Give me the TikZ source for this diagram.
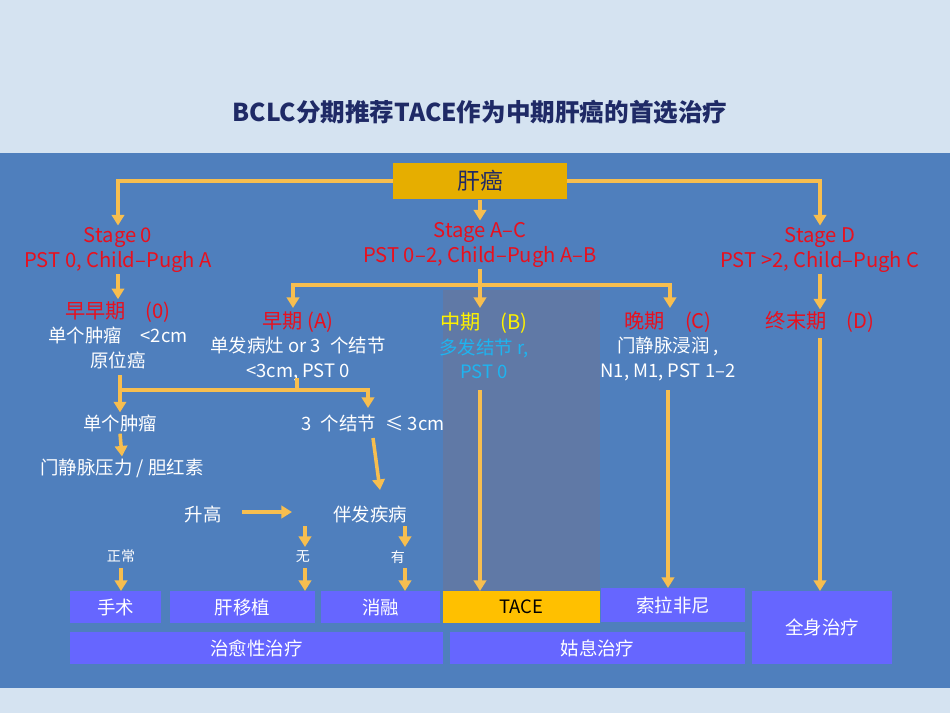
\documentclass[tikz,border=0pt]{standalone}
\usepackage{fontspec}
\setmainfont{Noto Sans CJK SC}
\usetikzlibrary{arrows.meta,calc}
\definecolor{panel}{HTML}{4F7FBD}
\definecolor{pale}{HTML}{D5E3F1}
\definecolor{midcol}{HTML}{6079A6}
\definecolor{flow}{HTML}{F7BE4F}
\definecolor{gold}{HTML}{E6AE00}
\definecolor{tacecol}{HTML}{FFC000}
\definecolor{treat}{HTML}{6666FF}
\definecolor{navy}{HTML}{1F2A66}
\definecolor{stagered}{HTML}{E8101E}
\definecolor{bcyan}{HTML}{1EB4F0}
\newcommand\infosize{\fontsize{10.5}{13}\selectfont}
\begin{document}
\begin{tikzpicture}[x=0.02cm,y=-0.02cm,
    lbl/.style={align=center,inner sep=1pt,font=\fontsize{11.5}{14}\selectfont},
    stage/.style={lbl,text=stagered},
    info/.style={lbl,text=white,font=\infosize},
    small/.style={lbl,text=white,font=\fontsize{8}{9}\selectfont},
    flowline/.style={draw=flow,line width=2pt},
    flowarrow/.style={flowline,-{Triangle[length=6pt,width=7pt]}},
    tbox/.style={fill=treat,text=white,inner sep=0pt,font=\infosize}]
  % background
  \fill[pale] (0,0) rectangle (950,713);
  \fill[panel] (0,153) rectangle (950,688);
  \fill[midcol] (443,290) rectangle (600,595);
  \node[font=\bfseries\fontsize{14}{16}\selectfont,text=navy] (title) at (480,112) {BCLC分期推荐TACE作为中期肝癌的首选治疗};
  % top level
  \node[fill=gold,text=navy,minimum width=3.48cm,minimum height=0.74cm,font=\fontsize{13}{14}\selectfont] (liver) at (480,181) {肝癌};
  \node[stage] (st0) at (118,250) {Stage 0\\PST 0, Child–Pugh A};
  \node[stage] (stac) at (480,245) {Stage A–C\\PST 0–2, Child–Pugh A–B};
  \node[stage] (std) at (820,250) {Stage D\\PST >2, Child–Pugh C};
  \draw[flowarrow] (liver.west) -| (st0.north);
  \draw[flowarrow] (liver.east) -| (std.north);
  \draw[flowarrow] (liver.south) -- (stac.north);
  % stages
  \node[lbl] (zero) at (118,335) {\textcolor{stagered}{早早期\quad(0)}\\\infosize\textcolor{white}{单个肿瘤\quad <2cm}\\\infosize\textcolor{white}{原位癌}};
  \node[lbl] (early) at (298,346) {\textcolor{stagered}{早期 (A)}\\\infosize\textcolor{white}{单发病灶 or 3\enspace 个结节}\\\infosize\textcolor{white}{<3cm, PST 0}};
  \node[lbl] (mid) at (484,346) {\textcolor{yellow}{中期\quad(B)}\\\infosize\textcolor{bcyan}{多发结节 r,}\\\infosize\textcolor{bcyan}{PST 0}};
  \node[lbl] (late) at (668,346) {\textcolor{stagered}{晚期\quad(C)}\\\infosize\textcolor{white}{门静脉浸润 ,}\\\infosize\textcolor{white}{N1, M1, PST 1–2}};
  \node[stage] (term) at (820,322) {终末期\quad(D)};
  \draw[flowarrow] (st0.south) -- (zero.north);
  \draw[flowarrow] (std.south) -- (term.north);
  \coordinate (split) at (480,285);
  \draw[flowline] (stac.south) -- (split);
  \draw[flowarrow] (split) -| (293,308);
  \draw[flowarrow] (split) -| (670,308);
  \draw[flowarrow] (split) -- (480,308);
  % early branch
  \node[info] (single) at (120,423) {单个肿瘤};
  \node[info] (three) at (373,423) {3\enspace 个结节\enspace ≤ 3cm};
  \node[info] (portal) at (122,468) {门静脉压力 / 胆红素};
  \coordinate (fork) at (297,390);
  \draw[flowline] (297,378) -- (fork);
  \draw[flowarrow] (120,375) -- (single.north);
  \draw[flowarrow] (120,390) -| (368,408);
  \draw[flowarrow] (single.south) -- (portal.north);
  \node[info] (up) at (203,514) {升高};
  \node[info] (comorb) at (370,514) {伴发疾病};
  \draw[flowarrow] (373,438) -- (380,490);
  \draw[flowarrow] (242,512) -- (292,512);
  \node[small] (normal) at (121,556) {正常};
  \node[small] (none) at (303,557) {无};
  \node[small] (yes) at (398,557) {有};
  \draw[flowarrow] (305,526) -- (305,547);
  \draw[flowarrow] (405,526) -- (405,547);
  % treatments
  \node[tbox,minimum width=1.82cm,minimum height=0.64cm] (surg) at (115.5,607) {手术};
  \node[tbox,minimum width=2.9cm,minimum height=0.64cm] (trans) at (242.5,607) {肝移植};
  \node[tbox,minimum width=2.38cm,minimum height=0.64cm] (abl) at (380.5,607) {消融};
  \node[tbox,fill=tacecol,text=black,minimum width=3.14cm,minimum height=0.64cm] (tace) at (521.5,607) {TACE};
  \node[tbox,minimum width=2.88cm,minimum height=0.68cm] (sora) at (673,605) {索拉非尼};
  \node[tbox,minimum width=2.8cm,minimum height=1.46cm] (sys) at (822,627.5) {全身治疗};
  \node[tbox,minimum width=7.46cm,minimum height=0.64cm] (cur) at (256.5,648) {治愈性治疗};
  \node[tbox,minimum width=5.9cm,minimum height=0.64cm] (pal) at (597.5,648) {姑息治疗};
  \draw[flowarrow] (121,568) -- (121,591);
  \draw[flowarrow] (305,568) -- (305,591);
  \draw[flowarrow] (405,568) -- (405,591);
  \draw[flowarrow] (480,390) -- (480,591);
  \draw[flowarrow] (668,390) -- (668,588);
  \draw[flowarrow] (820,338) -- (820,591);
\end{tikzpicture}
\end{document}
